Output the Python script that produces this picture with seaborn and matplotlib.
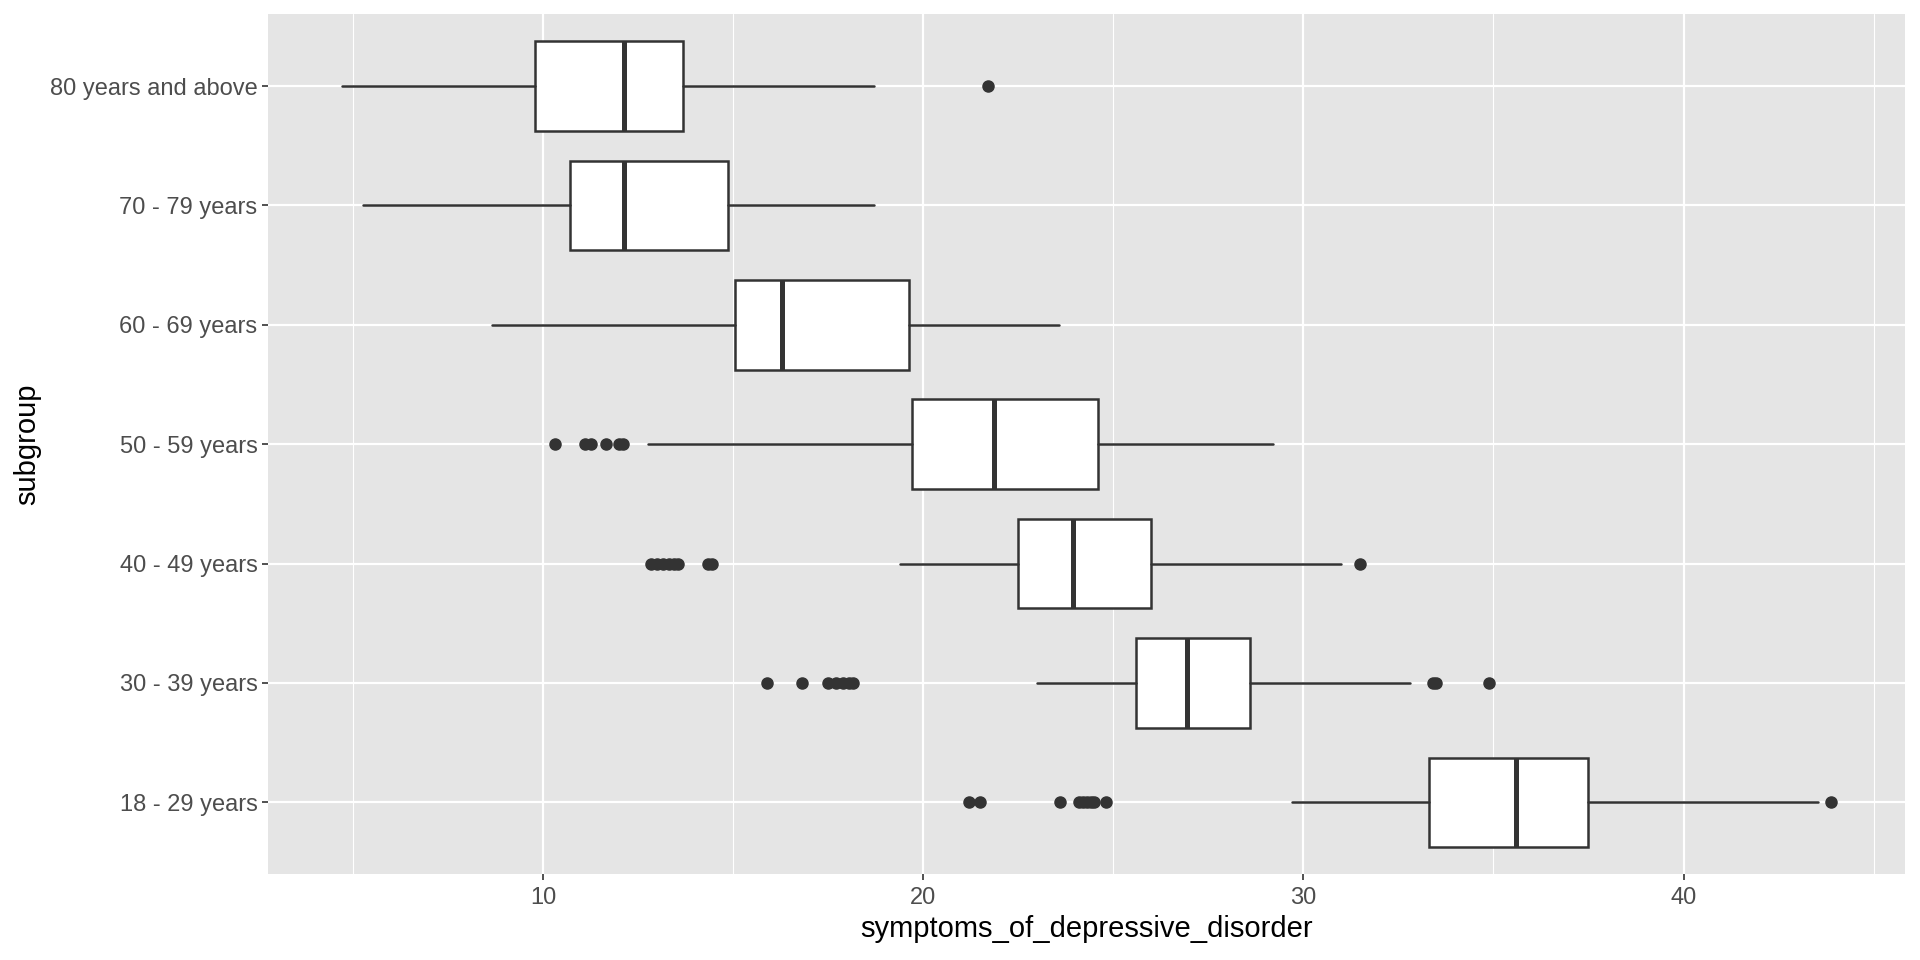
import matplotlib
matplotlib.use("Agg")
import matplotlib.pyplot as plt
import seaborn as sns
import numpy as np

# subgroups, bottom to top as in the reference
subgroups = ["18 - 29 years", "30 - 39 years", "40 - 49 years", "50 - 59 years",
             "60 - 69 years", "70 - 79 years", "80 years and above"]

# box statistics
whisker_low = [29.7, 23.0, 19.4, 12.75, 8.65, 5.25, 4.72]
q1 = [33.3, 25.6, 22.5, 19.7, 15.05, 10.7, 9.78]
median = [35.6, 26.95, 23.95, 21.85, 16.28, 12.12, 12.12]
q3 = [37.5, 28.6, 26.0, 24.6, 19.62, 14.86, 13.68]
whisker_high = [43.55, 32.8, 31.0, 29.2, 23.57, 18.7, 18.7]
outliers = [
    [21.2, 21.5, 23.6, 24.1, 24.2, 24.3, 24.4, 24.5, 24.8, 43.87],
    [15.9, 16.8, 17.5, 17.7, 17.9, 18.05, 18.15, 33.4, 33.5, 34.87],
    [12.85, 13.0, 13.15, 13.3, 13.45, 13.55, 14.35, 14.45, 31.5],
    [10.3, 11.1, 11.25, 11.65, 12.0, 12.1],
    [],
    [],
    [21.7],
]

sns.set_theme(style="darkgrid", rc={
    "axes.facecolor": "#E5E5E5",
    "grid.color": "white",
    "axes.edgecolor": "#E5E5E5",
})
plt.rcParams["font.family"] = ["Liberation Sans", "DejaVu Sans"]

stats = []
for i, name in enumerate(subgroups):
    stats.append({
        "label": name,
        "whislo": whisker_low[i],
        "q1": q1[i],
        "med": median[i],
        "q3": q3[i],
        "whishi": whisker_high[i],
        "fliers": outliers[i],
    })

fig = plt.figure(figsize=(19.2, 9.6), dpi=100)
ax = fig.add_axes([0.1396, 0.0896, 0.9922 - 0.1396, 0.985 - 0.0896])

line_col = "#333333"
ax.bxp(
    stats,
    positions=np.arange(1, len(subgroups) + 1),
    vert=False,
    widths=0.75,
    patch_artist=True,
    showcaps=False,
    boxprops=dict(facecolor="white", edgecolor=line_col, linewidth=1.8),
    whiskerprops=dict(color=line_col, linewidth=1.8),
    medianprops=dict(color=line_col, linewidth=3.6, solid_capstyle="butt"),
    flierprops=dict(marker="o", markerfacecolor=line_col, markeredgecolor=line_col,
                    markersize=8, linestyle="none"),
    zorder=3,
)

all_vals = whisker_low + whisker_high + [v for o in outliers for v in o]
lo, hi = min(all_vals), max(all_vals)
pad = (hi - lo) * 0.05
ax.set_xlim(lo - pad, hi + pad)
ax.set_ylim(0.4, len(subgroups) + 0.6)

ax.set_xticks([10, 20, 30, 40])
ax.set_xticks([5, 15, 25, 35, 45], minor=True)
ax.set_yticks(np.arange(1, len(subgroups) + 1))
ax.set_yticklabels(subgroups)
ax.grid(which="major", color="white", linewidth=1.6)
ax.grid(which="minor", axis="x", color="white", linewidth=0.8)
ax.tick_params(axis="both", which="major", length=4.5, width=1.2, color=line_col,
               labelsize=17, labelcolor="#4D4D4D", pad=3, bottom=True, left=True)
ax.tick_params(axis="x", which="major", pad=5)
ax.tick_params(axis="both", which="minor", length=0)
for s in ax.spines.values():
    s.set_visible(False)

ax.set_xlabel("symptoms_of_depressive_disorder", fontsize=21, color="black", labelpad=4)
ax.set_ylabel("subgroup", fontsize=21, color="black", labelpad=6)

fig.savefig("out.png", dpi=100)
